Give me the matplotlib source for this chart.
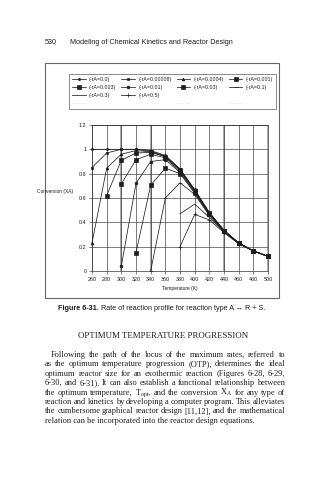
import numpy as np
import matplotlib
matplotlib.use('Agg')
import matplotlib.pyplot as plt
from matplotlib.lines import Line2D
from matplotlib.patches import Rectangle

# Temperatures (K) and conversion profiles for each reaction rate
temperature = [260, 280, 300, 320, 340, 360, 380, 400, 420, 440, 460, 480, 500]
nan = np.nan
conv_r0 = [1.0, 1.0, 1.0, 1.0, 0.99, 0.95, 0.84, 0.67, 0.48, 0.335, 0.23, 0.165, 0.12]
conv_r00008 = [0.85, 0.97, 1.0, 1.0, 0.985, 0.945, 0.835, 0.665, 0.48, 0.335, 0.23, 0.165, 0.12]
conv_r0004 = [0.23, 0.845, 0.96, 0.99, 0.98, 0.94, 0.83, 0.66, 0.475, 0.33, 0.23, 0.165, 0.12]
conv_r001 = [nan, 0.62, 0.91, 0.97, 0.975, 0.94, 0.83, 0.66, 0.475, 0.33, 0.23, 0.165, 0.12]
conv_r003 = [nan, nan, 0.715, 0.915, 0.96, 0.93, 0.82, 0.655, 0.47, 0.33, 0.23, 0.165, 0.12]
conv_r01 = [nan, nan, 0.04, 0.72, 0.90, 0.915, 0.81, 0.645, 0.47, 0.33, 0.23, 0.165, 0.12]
conv_r03 = [nan, nan, nan, 0.15, 0.705, 0.845, 0.80, 0.64, 0.465, 0.325, 0.23, 0.165, 0.12]
conv_r1 = [nan, nan, nan, nan, 0.0, 0.6, 0.725, 0.63, 0.455, 0.325, 0.225, 0.165, 0.12]
conv_r3 = [nan, nan, nan, nan, nan, nan, 0.47, 0.55, 0.44, 0.32, 0.225, 0.165, 0.12]
conv_r5 = [nan, nan, nan, nan, nan, nan, 0.2, 0.465, 0.42, 0.315, 0.225, 0.165, 0.12]

rate_labels = ['(-rA=0.0)', '(-rA=0.00008)', '(-rA=0.0004)', '(-rA=0.001)',
               '(-rA=0.003)', '(-rA=0.01)', '(-rA=0.03)', '(-rA=0.1)',
               '(-rA=0.3)', '(-rA=0.5)']
series = [conv_r0, conv_r00008, conv_r0004, conv_r001, conv_r003,
          conv_r01, conv_r03, conv_r1, conv_r3, conv_r5]
markers = ['D', 's', '^', 's', 's', 'o', 's', '_', None, '+']
msizes = [1.4, 2.0, 2.0, 2.4, 2.2, 2.0, 2.2, 2.5, 0, 2.6]

y_ticks = [0, 0.2, 0.4, 0.6, 0.8, 1.0, 1.2]
y_tick_labels = ['0', '0.2', '0.4', '0.6', '0.8', '1', '1.2']

para_lines = [
    'Following the path of the locus of the maximum rates, referred to',
    'as the optimum temperature progression (OTP), determines the ideal',
    'optimum reactor size for an exothermic reaction (Figures 6-28, 6-29,',
    '6-30, and 6-31). It can also establish a functional relationship between',
    r'the optimum temperature, T$_{\mathrm{opt}}$, and the conversion X$_{\mathrm{A}}$ for any type of',
    'reaction and kinetics by developing a computer program. This alleviates',
    'the cumbersome graphical reactor design [11,12], and the mathematical',
    'relation can be incorporated into the reactor design equations.',
]

plt.rcParams['mathtext.fontset'] = 'custom'
plt.rcParams['mathtext.rm'] = 'Liberation Serif'
plt.rcParams['mathtext.it'] = 'Liberation Serif:italic'

W, H = 324, 480
SANS = ['Liberation Sans', 'DejaVu Sans']
SERIF = ['Liberation Serif', 'DejaVu Serif']
INK = '#1e1e1e'


def fx(x):
    return x / W


def fy(y):
    return 1 - y / H


fig = plt.figure(figsize=(W / 100, H / 100), dpi=100)
fig.patch.set_facecolor('white')

# page header
fig.text(fx(45), fy(42), '530', family=SANS, fontsize=5.2, color=INK, va='center')
fig.text(fx(70), fy(42), 'Modeling of Chemical Kinetics and Reactor Design',
         family=SANS, fontsize=5.2, color=INK, va='center')

# frame around the chart
fig.patches.append(Rectangle((fx(45), fy(298)), fx(279) - fx(45), fy(63) - fy(298),
                             transform=fig.transFigure, fill=False,
                             edgecolor='#666', lw=0.8))

ax = fig.add_axes([fx(92), fy(271), fx(268) - fx(92), fy(125) - fy(271)])
for xv in [300, 340, 440, 500]:
    ax.axvline(xv, color='#aaa', lw=1.4, zorder=0)
ax.axhline(1.2, color='#aaa', lw=1.4, zorder=0)
ax.set_xticks(temperature)
ax.set_yticks(y_ticks)
ax.set_yticklabels(y_tick_labels)
ax.grid(True, color='#333', lw=0.45, zorder=1)
ax.set_xlim(260, 500)
ax.set_ylim(0, 1.2)
for s in ax.spines.values():
    s.set_linewidth(0.5)
    s.set_color('#333')
ax.tick_params(labelsize=3.9, length=2, width=0.4, pad=2, colors=INK)
for lab in ax.get_xticklabels() + ax.get_yticklabels():
    lab.set_family(SANS)

handles = []
for vals, mk, ms, lab in zip(series, markers, msizes, rate_labels):
    h, = ax.plot(temperature, vals, color=INK, lw=0.55, marker=mk, markersize=ms,
                 markeredgewidth=0.5, label=lab, zorder=3, clip_on=False)
    handles.append(h)

ax.set_xlabel('Temperature (K)', fontsize=3.5, family=SANS, color=INK, labelpad=3)
fig.text(fx(73), fy(192), 'Conversion (XA)', fontsize=3.5, family=SANS,
         color=INK, ha='right', va='center')

# legend laid out row by row, with a faint fourth row
blank = Line2D([], [], color='none')
faint = Line2D([], [], color='#dcdcdc', lw=0.5, ls=(0, (2, 2)))
slots = handles[:8] + handles[8:10] + [blank, blank] + [faint, blank, faint, faint]
slot_labels = rate_labels[:8] + rate_labels[8:10] + [' ', ' ', ' ', ' ', ' ', ' ']
order = [0, 4, 8, 12, 1, 5, 9, 13, 2, 6, 10, 14, 3, 7, 11, 15]
leg = fig.legend([slots[i] for i in order], [slot_labels[i] for i in order],
                 ncol=4, loc='upper left', mode='expand',
                 bbox_to_anchor=(fx(69), fy(108), fx(276) - fx(69), fy(74) - fy(108)),
                 bbox_transform=fig.transFigure, fontsize=3.8, frameon=True,
                 fancybox=False, handlelength=2.6, handletextpad=0.6,
                 labelspacing=0.55, borderpad=0.6, borderaxespad=0)
leg.get_frame().set_edgecolor('#333')
leg.get_frame().set_linewidth(0.5)
for t in leg.get_texts():
    t.set_family(SANS)
    t.set_color(INK)

# caption
r = fig.canvas.get_renderer()
cap_bold = fig.text(0, fy(308), 'Figure 6-31.', family=SANS, fontsize=5.2,
                    weight='bold', color=INK, va='center')
cap_rest = fig.text(0, fy(308), ' Rate of reaction profile for reaction type A \u2194 R + S.',
                    family=SANS, fontsize=5.2, color=INK, va='center')
wb = cap_bold.get_window_extent(r).width
wr = cap_rest.get_window_extent(r).width
start = 162 - (wb + wr) / 2
cap_bold.set_x(fx(start))
cap_rest.set_x(fx(start + wb))

# section heading
fig.text(fx(163), fy(336), 'OPTIMUM TEMPERATURE PROGRESSION', family=SERIF,
         fontsize=6.4, color=INK, ha='center', va='center')

# justified body text
left, right, top, step = 45, 285, 355, 9.4
body_size = 6.05
for i, line in enumerate(para_lines):
    y = fy(top + i * step)
    x0 = left + (6 if i == 0 else 0)
    if i == len(para_lines) - 1:
        fig.text(fx(x0), y, line, family=SERIF, fontsize=body_size, color=INK, va='center')
        continue
    words = line.split(' ')
    texts = [fig.text(0, y, w, family=SERIF, fontsize=body_size, color=INK, va='center')
             for w in words]
    widths = [t.get_window_extent(r).width for t in texts]
    gap = (right - x0 - sum(widths)) / (len(words) - 1)
    pos = x0
    for t, w in zip(texts, widths):
        t.set_x(fx(pos))
        pos += w + gap

fig.savefig('out.png', dpi=100, facecolor='white')
